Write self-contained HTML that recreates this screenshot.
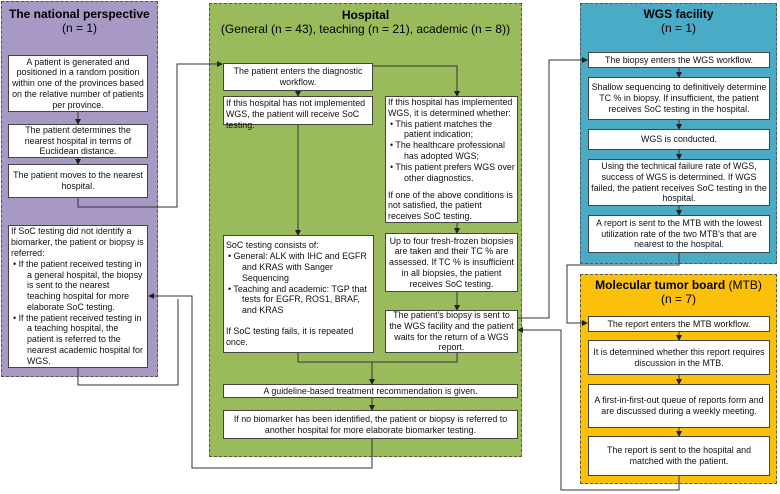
<!DOCTYPE html>
<html><head><meta charset="utf-8"><style>
body{margin:0;width:780px;height:494px;background:#fff;position:relative;overflow:hidden;font-family:"Liberation Sans",Arial,sans-serif;}
.c{position:absolute;border:1px dashed #555;box-sizing:border-box;}
.t{position:absolute;left:0;right:0;text-align:center;font-size:12px;line-height:14px;color:#000;}
.b{position:absolute;background:#fff;border:1px solid #444;box-sizing:border-box;font-size:8.9px;line-height:10.8px;color:#111;display:flex;flex-direction:column;justify-content:center;padding:0 2px;}
.ce{text-align:center;align-items:center;}
.b ul{margin:0;padding:0;list-style:none;}
.b li{padding-left:16px;text-indent:-14px;}
.b li:before{content:"• ";}
svg{position:absolute;left:0;top:0;}
</style></head><body>
<div class="c" style="left:1px;top:1px;width:157px;height:376px;background:#a898c4"></div>
<div class="c" style="left:209px;top:3px;width:313px;height:454px;background:#9abb5c"></div>
<div class="c" style="left:580px;top:3px;width:197px;height:261px;background:#4aabc6"></div>
<div class="c" style="left:580px;top:274px;width:197px;height:210px;background:#fbc00a"></div>

<div class="t" style="left:1px;width:157px;top:7px;text-align:left;padding-left:8px;font-weight:bold">The national perspective</div>
<div class="t" style="left:1px;width:157px;top:21px;">(n = 1)</div>
<div class="t" style="left:209px;width:313px;top:8px;font-weight:bold">Hospital</div>
<div class="t" style="left:209px;width:313px;top:22px;">(General (n = 43), teaching (n = 21), academic (n = 8))</div>
<div class="t" style="left:580px;width:197px;top:7px;font-weight:bold">WGS facility</div>
<div class="t" style="left:580px;width:197px;top:21px;">(n = 1)</div>
<div class="t" style="left:580px;width:197px;top:278px;"><b>Molecular tumor board</b> (MTB)</div>
<div class="t" style="left:580px;width:197px;top:292px;">(n = 7)</div>

<svg width="780" height="494">
<defs><marker id="a" markerWidth="6" markerHeight="6" refX="5" refY="3" orient="auto"><path d="M0,0 L6,3 L0,6z" fill="#222"/></marker></defs>
<g fill="none" stroke="#333" stroke-width="1">
<path d="M78 111V124" marker-end="url(#a)"/>
<path d="M78 157V164" marker-end="url(#a)"/>
<path d="M78 197V207H177V64H222" marker-end="url(#a)"/>
<path d="M78 367V385H178V299"/>
<path d="M372 438V468H192V296H149" marker-end="url(#a)"/>
<path d="M298 90V96" marker-end="url(#a)"/>
<path d="M372 66H457V96" marker-end="url(#a)"/>
<path d="M298 124V235" marker-end="url(#a)"/>
<path d="M457 222V233" marker-end="url(#a)"/>
<path d="M457 291V310" marker-end="url(#a)"/>
<path d="M298 352V362H457V352"/>
<path d="M372 362V384" marker-end="url(#a)"/>
<path d="M372 397V410" marker-end="url(#a)"/>
<path d="M517 318H549V60H587" marker-end="url(#a)"/>
<path d="M679 475V490H561V330H518" marker-end="url(#a)"/>
<path d="M679 67V77" marker-end="url(#a)"/>
<path d="M679 119V129" marker-end="url(#a)"/>
<path d="M679 149V159" marker-end="url(#a)"/>
<path d="M679 205V215" marker-end="url(#a)"/>
<path d="M679 252V265H567V323H587" marker-end="url(#a)"/>
<path d="M679 331V340" marker-end="url(#a)"/>
<path d="M679 374V384" marker-end="url(#a)"/>
<path d="M679 427V436" marker-end="url(#a)"/>
</g>
</svg>

<div class="b ce" style="left:8px;top:55px;width:140px;height:57px">A patient is generated and positioned in a random position within one of the provinces based on the relative number of patients per province.</div>
<div class="b ce" style="left:8px;top:124px;width:140px;height:34px">The patient determines the nearest hospital in terms of Euclidean distance.</div>
<div class="b ce" style="left:8px;top:164px;width:140px;height:34px">The patient moves to the nearest hospital.</div>
<div class="b" style="left:8px;top:225px;width:140px;height:143px">If SoC testing did not identify a biomarker, the patient or biopsy is referred:<ul><li>If the patient received testing in a general hospital, the biopsy is sent to the nearest teaching hospital for more elaborate SoC testing.</li><li>If the patient received testing in a teaching hospital, the patient is referred to the nearest academic hospital for WGS.</li></ul></div>

<div class="b ce" style="left:223px;top:63px;width:150px;height:28px">The patient enters the diagnostic workflow.</div>
<div class="b" style="left:223px;top:96px;width:150px;height:29px;justify-content:flex-start;padding-top:1px">If this hospital has not implemented WGS, the patient will receive SoC testing.</div>
<div class="b" style="left:385px;top:96px;width:133px;height:127px">If this hospital has implemented WGS, it is determined whether:<ul><li>This patient matches the patient indication;</li><li>The healthcare professional has adopted WGS;</li><li>This patient prefers WGS over other diagnostics.</li></ul><div style="height:10px"></div>If one of the above conditions is not satisfied, the patient receives SoC testing.</div>
<div class="b" style="left:223px;top:235px;width:151px;height:118px">SoC testing consists of:<ul><li>General: ALK with IHC and EGFR and KRAS with Sanger Sequencing</li><li>Teaching and academic: TGP that tests for EGFR, ROS1, BRAF, and KRAS</li></ul><div style="height:10px"></div>If SoC testing fails, it is repeated once.</div>
<div class="b ce" style="left:385px;top:233px;width:133px;height:59px">Up to four fresh-frozen biopsies are taken and their TC % are assessed. If TC % is insufficient in all biopsies, the patient receives SoC testing.</div>
<div class="b ce" style="left:385px;top:310px;width:133px;height:43px">The patient's biopsy is sent to the WGS facility and the patient waits for the return of a WGS report.</div>
<div class="b ce" style="left:223px;top:384px;width:295px;height:14px">A guideline-based treatment recommendation is given.</div>
<div class="b ce" style="left:223px;top:410px;width:295px;height:29px">If no biomarker has been identified, the patient or biopsy is referred to another hospital for more elaborate biomarker testing.</div>

<div class="b ce" style="left:588px;top:52px;width:182px;height:16px">The biopsy enters the WGS workflow.</div>
<div class="b ce" style="left:588px;top:77px;width:182px;height:43px">Shallow sequencing to definitively determine TC % in biopsy. If insufficient, the patient receives SoC testing in the hospital.</div>
<div class="b ce" style="left:588px;top:129px;width:182px;height:21px">WGS is conducted.</div>
<div class="b ce" style="left:588px;top:159px;width:182px;height:47px">Using the technical failure rate of WGS, success of WGS is determined. If WGS failed, the patient receives SoC testing in the hospital.</div>
<div class="b ce" style="left:588px;top:215px;width:182px;height:38px">A report is sent to the MTB with the lowest utilization rate of the two MTB's that are nearest to the hospital.</div>

<div class="b ce" style="left:588px;top:316px;width:182px;height:16px">The report enters the MTB workflow.</div>
<div class="b ce" style="left:588px;top:340px;width:182px;height:35px">It is determined whether this report requires discussion in the MTB.</div>
<div class="b ce" style="left:588px;top:384px;width:182px;height:44px">A first-in-first-out queue of reports form and are discussed during a weekly meeting.</div>
<div class="b ce" style="left:588px;top:436px;width:182px;height:40px">The report is sent to the hospital and matched with the patient.</div>
</body></html>
